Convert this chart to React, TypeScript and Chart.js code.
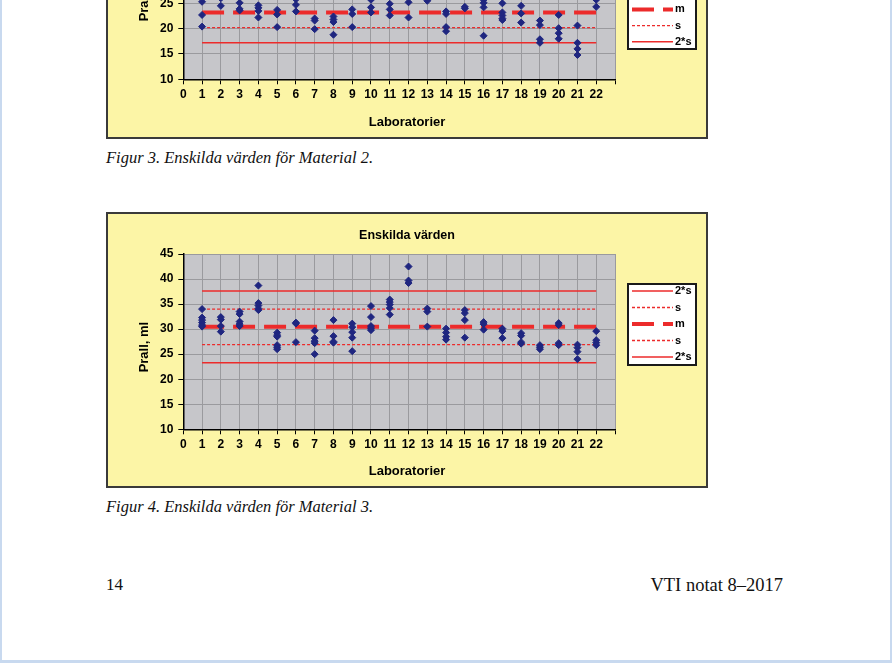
import React, { useEffect, useRef } from 'react';
import { Chart, registerables } from 'chart.js';
Chart.register(...registerables);

// ---------- data ----------
const LAB_MIN = 0;
const LAB_MAX = 23;
const Y_MIN = 10;
const Y_MAX = 45;
const LINE_LABELS = ['2*s', 's', 'm', 's', '2*s'];

// Material 2 (upper figure, only the visible part)
const material2Values: number[][] = [
  [25.3, 22.7, 20.4],
  [26.0, 24.5],
  [25.1, 23.9, 23.6],
  [24.6, 24.1, 23.5, 22.2],
  [23.7, 22.8, 20.3],
  [25.8, 24.7, 23.4],
  [22.0, 21.6, 19.9],
  [22.4, 21.8, 21.3, 18.8],
  [23.8, 22.9, 20.3],
  [25.7, 24.2, 23.2],
  [24.9, 23.8, 22.6],
  [25.2, 22.2],
  [25.5],
  [23.4, 22.9, 20.3, 19.5],
  [24.3, 24.0],
  [25.7, 25.1, 24.2, 18.6],
  [25.0, 23.2, 22.6, 22.0, 21.7],
  [24.5, 23.0, 21.2],
  [21.6, 20.7, 17.9, 17.2],
  [22.7, 20.1, 19.1, 18.0],
  [20.6, 17.2, 16.0, 14.8],
  [25.7, 24.3],
];
// levels: +2s, +s, m, -s, -2s
const material2Levels = [29.2, 26.2, 23.2, 20.2, 17.2];

// Material 3 (lower figure)
const material3Values: number[][] = [
  [34.0, 32.3, 31.8, 31.3, 30.8, 30.5],
  [32.4, 31.9, 30.6, 29.5],
  [33.5, 33.0, 31.5, 31.0, 30.6],
  [38.7, 35.2, 34.7, 34.1, 33.8],
  [29.3, 28.8, 28.5, 26.8, 26.4, 26.0],
  [31.3, 31.1, 27.4],
  [29.7, 28.2, 27.6, 27.2, 25.0],
  [31.8, 28.6, 27.5, 27.3],
  [31.1, 30.4, 29.4, 28.3, 25.6],
  [34.6, 32.4, 30.6, 30.2, 29.8],
  [35.9, 35.4, 34.9, 34.2, 32.9],
  [42.5, 39.7, 39.2],
  [34.1, 33.5, 30.5],
  [30.1, 29.3, 28.5, 27.9],
  [33.8, 33.2, 31.8, 28.3],
  [31.4, 31.0, 29.9],
  [30.1, 29.6, 28.2],
  [29.2, 28.7, 27.4, 27.1],
  [26.8, 26.4, 26.0],
  [31.2, 30.8, 27.2, 26.8],
  [26.9, 26.3, 25.5, 24.0],
  [29.6, 27.8, 27.3, 26.8],
];
const material3Levels = [37.6, 34.0, 30.45, 26.9, 23.3];

// ---------- styles ----------
const SANS = '"Liberation Sans", Arial, sans-serif';
const SERIF = '"Liberation Serif", "Times New Roman", serif';
const YELLOW = '#fcf5a6';
const PLOT_BG = '#c6c6ca';
const GRID = '#9a9a9e';
const RED = '#ec2b2b';
const MARKER = '#1f2680';
const CANVAS_W = 598;
const CANVAS_H = 272;

type ChartSpec = {
  top: number;
  values: number[][];
  levels: number[];
  areaTop: number;
  areaBottom: number;
  legendY: number;
  legendH: number;
  rowH: number;
};

function lineStyle(i: number) {
  if (i === 2) return { borderWidth: 4, borderDash: [22, 9] };
  if (i === 1 || i === 3) return { borderWidth: 1.3, borderDash: [3, 2] };
  return { borderWidth: 1.5, borderDash: [] as number[] };
}

function ChartBox({ spec }: { spec: ChartSpec }) {
  const ref = useRef<HTMLCanvasElement | null>(null);
  useEffect(() => {
    if (!ref.current) return;
    const points: { x: number; y: number }[] = [];
    spec.values.forEach((vals, i) => vals.forEach((v) => points.push({ x: i + 1, y: v })));
    const lineSets = spec.levels.map((lv, i) => ({
      label: LINE_LABELS[i],
      data: [
        { x: 1, y: lv },
        { x: spec.values.length, y: lv },
      ],
      showLine: true,
      pointRadius: 0,
      borderColor: RED,
      backgroundColor: RED,
      fill: false,
      ...lineStyle(i),
    }));
    const titleFont = 12.5;
    const titlePadTop = 14.5;
    const titleLH = titleFont * 1.2;
    const subFont = 13;
    const subLH = subFont * 1.2;
    const subPadBottom = 7;
    const xScaleH = CANVAS_H - spec.areaBottom - subLH - subPadBottom;

    const decor = {
      id: 'decor',
      beforeDraw(chart: any) {
        const { ctx, chartArea: a } = chart;
        ctx.save();
        ctx.fillStyle = PLOT_BG;
        ctx.fillRect(a.left, a.top, a.right - a.left, a.bottom - a.top);
        ctx.restore();
      },
      afterDraw(chart: any) {
        const ctx = chart.ctx as CanvasRenderingContext2D;
        const x = 520;
        const y = spec.legendY;
        const w = 68;
        const h = spec.legendH;
        ctx.save();
        ctx.fillStyle = '#ffffff';
        ctx.fillRect(x, y, w, h);
        ctx.setLineDash([]);
        ctx.lineWidth = 2;
        ctx.strokeStyle = '#1a1a1a';
        ctx.strokeRect(x, y, w, h);
        const ds = chart.data.datasets.filter((d: any) => d.showLine);
        ds.forEach((d: any, i: number) => {
          const cy = y + 7 + i * spec.rowH;
          ctx.beginPath();
          ctx.setLineDash(d.borderDash || []);
          ctx.lineWidth = d.borderWidth;
          ctx.strokeStyle = d.borderColor;
          ctx.moveTo(x + 4, cy);
          ctx.lineTo(x + 45, cy);
          ctx.stroke();
          ctx.setLineDash([]);
          ctx.fillStyle = '#000';
          ctx.font = `bold 11px ${SANS}`;
          ctx.textBaseline = 'middle';
          ctx.textAlign = 'left';
          ctx.fillText(d.label, x + 47, cy);
        });
        ctx.restore();
      },
    };

    const tickFont = { family: SANS, size: 12, weight: 'bold' };

    const chart = new Chart(ref.current, {
      type: 'scatter',
      data: {
        datasets: [
          {
            label: 'values',
            data: points,
            showLine: false,
            pointStyle: 'rectRot',
            pointRadius: 3.5,
            backgroundColor: MARKER,
            borderColor: MARKER,
            borderWidth: 1,
          } as any,
          ...lineSets,
        ],
      },
      options: {
        animation: false,
        responsive: false,
        devicePixelRatio: 1,
        layout: { padding: 0 },
        plugins: {
          legend: { display: false },
          tooltip: { enabled: false },
          title: {
            display: true,
            text: 'Enskilda värden',
            color: '#000',
            font: { family: SANS, size: titleFont, weight: 'bold' },
            padding: { top: titlePadTop, bottom: spec.areaTop - titlePadTop - titleLH },
          },
          subtitle: {
            display: true,
            position: 'bottom',
            text: 'Laboratorier',
            color: '#000',
            font: { family: SANS, size: subFont, weight: 'bold' },
            padding: { top: 0, bottom: subPadBottom },
          },
        },
        scales: {
          x: {
            type: 'linear',
            min: LAB_MIN,
            max: LAB_MAX,
            afterFit: (s: any) => {
              s.height = xScaleH;
            },
            ticks: {
              stepSize: 1,
              autoSkip: false,
              maxRotation: 0,
              padding: 3,
              color: '#000',
              font: tickFont,
              callback: (v: any) => (v === LAB_MAX ? '' : String(v)),
            },
            grid: { color: GRID, lineWidth: 1, tickColor: '#000', tickLength: 5 },
            border: { color: '#000', width: 1.5 },
          },
          y: {
            min: Y_MIN,
            max: Y_MAX,
            afterFit: (s: any) => {
              s.width = 75.3;
            },
            ticks: {
              stepSize: 5,
              padding: 5,
              color: '#000',
              font: tickFont,
            },
            grid: { color: GRID, lineWidth: 1, tickColor: '#000', tickLength: 5 },
            border: { color: '#000', width: 1.5 },
            title: {
              display: true,
              text: 'Prall, ml   ',
              color: '#000',
              font: { family: SANS, size: 13, weight: 'bold' },
              padding: { top: 29, bottom: 0 },
            },
          },
          yRight: {
            type: 'linear',
            axis: 'y',
            position: 'right',
            min: Y_MIN,
            max: Y_MAX,
            afterFit: (s: any) => {
              s.width = 91;
            },
            ticks: { display: false },
            grid: { display: false, drawTicks: false },
            border: { display: false },
          },
        },
      } as any,
      plugins: [decor],
    });
    return () => chart.destroy();
  }, [spec]);

  return (
    <div
      style={{
        position: 'absolute',
        left: 106,
        top: spec.top,
        width: 602,
        height: 276,
        boxSizing: 'border-box',
        border: '2px solid #3a3a3a',
        background: YELLOW,
      }}
    >
      <canvas ref={ref} width={CANVAS_W} height={CANVAS_H} style={{ display: 'block' }} />
    </div>
  );
}

const SPEC_TOP: ChartSpec = {
  top: -137,
  values: material2Values,
  levels: material2Levels,
  areaTop: 37,
  areaBottom: 214.3,
  legendY: 105,
  legendH: 79,
  rowH: 16.2,
};
const SPEC_BOTTOM: ChartSpec = {
  top: 212,
  values: material3Values,
  levels: material3Levels,
  areaTop: 40,
  areaBottom: 215.3,
  legendY: 70,
  legendH: 81,
  rowH: 16.5,
};

const textStyle: React.CSSProperties = {
  position: 'absolute',
  fontFamily: SERIF,
  fontSize: 16.5,
  lineHeight: '16px',
  color: '#111',
  whiteSpace: 'nowrap',
};

export default function App() {
  return (
    <div
      style={{
        position: 'fixed',
        left: 0,
        top: 0,
        width: 892,
        height: 663,
        overflow: 'hidden',
        background: '#ffffff',
        boxSizing: 'border-box',
        borderLeft: '2px solid #c8d9ef',
        borderRight: '2px solid #c8d9ef',
        borderBottom: '3px solid #c8d9ef',
      }}
    >
      <div style={{ position: 'absolute', left: -2, top: 0, width: 892, height: 663 }}>
        <ChartBox spec={SPEC_TOP} />
        <div style={{ ...textStyle, left: 106, top: 150, fontStyle: 'italic' }}>
          Figur 3. Enskilda värden för Material 2.
        </div>
        <ChartBox spec={SPEC_BOTTOM} />
        <div style={{ ...textStyle, left: 106, top: 499, fontStyle: 'italic' }}>
          Figur 4. Enskilda värden för Material 3.
        </div>
        <div style={{ ...textStyle, left: 106, top: 577, fontSize: 17 }}>14</div>
        <div style={{ ...textStyle, left: 483, width: 300, top: 577, fontSize: 18.5, textAlign: 'right' }}>
          VTI notat 8–2017
        </div>
      </div>
    </div>
  );
}
